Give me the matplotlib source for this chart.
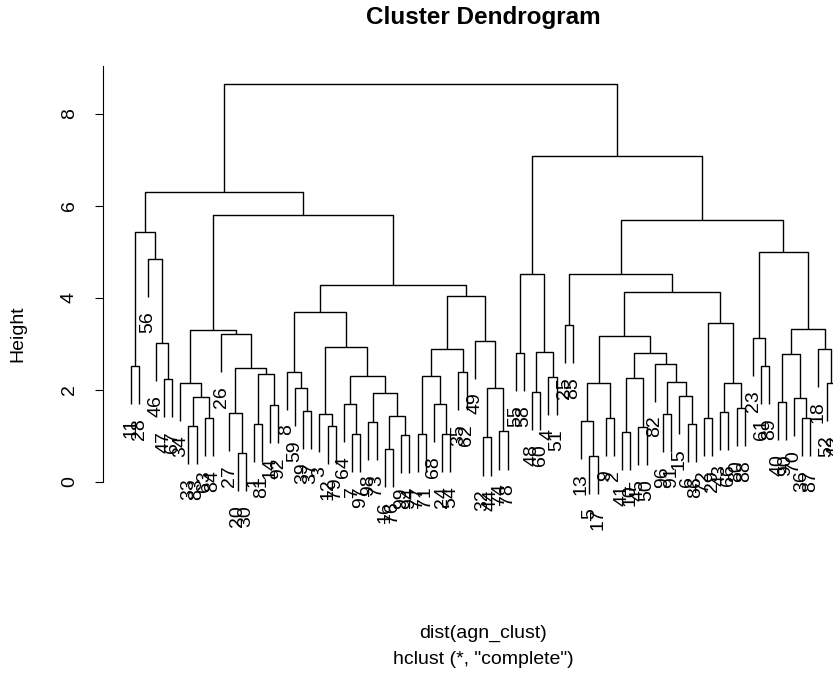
import matplotlib
matplotlib.use("Agg")
import matplotlib.pyplot as plt

# leaves in dendrogram order
leaf_labels = ["11", "28", "56", "46", "47", "67", "34", "33", "83", "63",
               "84", "26", "27", "20", "30", "1", "81", "14", "92", "8",
               "59", "39", "37", "3", "12", "79", "64", "7", "97", "98",
               "73", "16", "76", "99", "94", "77", "71", "68", "24", "54",
               "35", "62", "49", "32", "44", "74", "78", "55", "58", "48",
               "60", "4", "51", "25", "85", "13", "5", "17", "9", "2",
               "41", "10", "45", "50", "82", "96", "91", "15", "6", "86",
               "72", "29", "43", "66", "80", "88", "23", "61", "89", "40",
               "90", "70", "36", "87", "18", "52", "42"]

# merges: leaf range covered (1-based, inclusive) and merge height
node_lo = [1, 5, 4, 3, 1, 8, 10, 8, 7, 14, 13, 16, 18, 16, 13, 12, 7,
           22, 21, 20, 25, 24, 28, 27, 30, 32, 34, 32, 30, 27, 24, 20,
           36, 39, 38, 36, 41, 36, 44, 46, 44, 43, 36, 20, 7, 1,
           48, 50, 52, 50, 48, 54, 57, 56, 59, 56, 61, 63, 61, 66, 69,
           68, 66, 65, 61, 56, 71, 73, 75, 73, 71, 56, 54, 78, 77, 80,
           83, 82, 80, 86, 85, 80, 77, 54, 48, 1]
node_hi = [2, 6, 6, 6, 6, 9, 11, 11, 11, 15, 15, 17, 19, 19, 19, 19, 19,
           23, 23, 23, 26, 26, 29, 29, 31, 33, 35, 35, 35, 35, 35, 35,
           37, 40, 40, 40, 42, 42, 45, 47, 47, 47, 47, 47, 47, 47,
           49, 51, 53, 53, 53, 55, 58, 58, 60, 60, 62, 64, 64, 67, 70,
           70, 70, 70, 70, 70, 72, 74, 76, 76, 76, 76, 76, 79, 79, 81,
           84, 84, 84, 87, 87, 87, 87, 87, 87, 87]
node_h = [2.52, 2.24, 3.02, 4.85, 5.43, 1.22, 1.39, 1.85, 2.15, 0.63,
          1.50, 1.26, 1.67, 2.35, 2.48, 3.22, 3.30, 1.55, 2.04, 2.39,
          1.22, 1.48, 1.04, 1.69, 1.30, 0.72, 1.02, 1.43, 1.93, 2.30,
          2.93, 3.70, 1.04, 1.04, 1.69, 2.30, 2.39, 2.89, 0.97, 1.10,
          2.04, 3.07, 4.04, 4.28, 5.80, 6.30,
          2.80, 1.96, 2.28, 2.83, 4.52, 3.41, 0.57, 1.33, 1.39, 2.15,
          1.08, 1.20, 2.26, 1.48, 1.26, 1.87, 2.17, 2.57, 2.80, 3.17,
          1.39, 1.52, 1.61, 2.15, 3.46, 4.13, 4.52, 2.52, 3.13, 1.74,
          1.39, 1.83, 2.78, 2.15, 2.89, 3.33, 5.00, 5.70, 7.09, 8.65]

plt.rcParams['font.family'] = ['Liberation Sans', 'DejaVu Sans']

n = len(leaf_labels)
hang = 0.83
heights = {(lo, hi): h for lo, hi, h in zip(node_lo, node_hi, node_h)}


def child(lo, hi, left):
    best = None
    for a, b in heights:
        if (a, b) == (lo, hi):
            continue
        if left and a == lo and b < hi and (best is None or b > best[1]):
            best = (a, b)
        if not left and b == hi and a > lo and (best is None or a < best[0]):
            best = (a, b)
    if best is None:
        best = (lo, lo) if left else (hi, hi)
    return best


fig = plt.figure(figsize=(8.33, 6.73), dpi=100)
ax = fig.add_axes([103 / 833, 93 / 673, 760 / 833, 514 / 673])


def draw(lo, hi):
    h = heights[(lo, hi)]
    ends = []
    for rng in (child(lo, hi, True), child(lo, hi, False)):
        if rng[0] == rng[1]:
            x, y = float(rng[0]), h - hang
            ax.text(x, y - 0.3, leaf_labels[rng[0] - 1], rotation=90,
                    ha='center', va='top', fontsize=14)
        else:
            x, y = draw(*rng)
        ends.append((x, y))
    (xl, yl), (xr, yr) = ends
    ax.plot([xl, xl, xr, xr], [yl, h, h, yr], color='black', lw=1.0,
            solid_capstyle='butt')
    return (xl + xr) / 2, h


draw(1, n)

ax.set_xlim(1 - 0.04 * (n - 1), n + 0.04 * (n - 1))
ax.set_ylim(-2.13, 9.04)
for s in ['top', 'right', 'bottom']:
    ax.spines[s].set_visible(False)
ax.spines['left'].set_bounds(0, 9.04)
ax.set_xticks([])
ax.set_yticks([0, 2, 4, 6, 8])
ax.set_yticklabels(['0', '2', '4', '6', '8'], rotation=90, va='center')
ax.tick_params(axis='y', length=6, labelsize=14, pad=12)

ax.text(0.5, 1.095, "Cluster Dendrogram", transform=ax.transAxes,
        ha='center', va='center', fontsize=17.5, fontweight='bold')
ax.text(-0.112, 0.479, "Height", transform=ax.transAxes, rotation=90,
        ha='center', va='center', fontsize=14)
ax.text(0.5, -0.103, "dist(agn_clust)", transform=ax.transAxes,
        ha='center', va='center', fontsize=14)
ax.text(0.5, -0.154, 'hclust (*, "complete")', transform=ax.transAxes,
        ha='center', va='center', fontsize=14)

fig.savefig("out.png", dpi=100)
